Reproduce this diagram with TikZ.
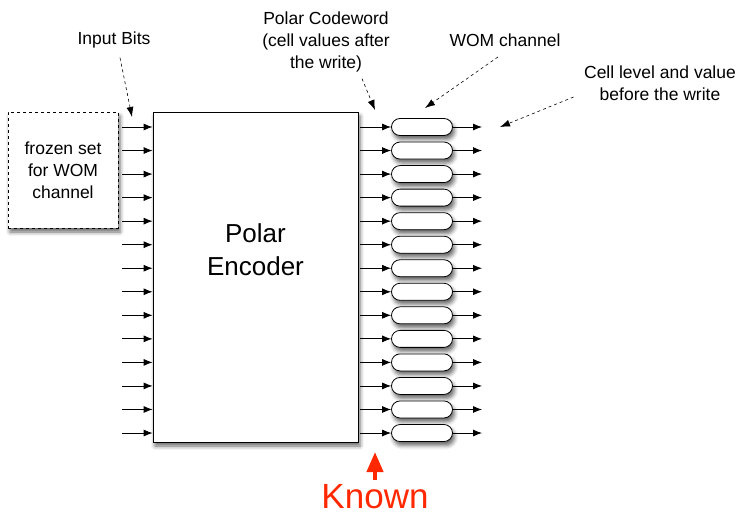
\documentclass[tikz,border=0pt]{standalone}
\usepackage{fontspec}
\setmainfont{Liberation Sans}
\usetikzlibrary{positioning,arrows.meta,shadows.blur}
\definecolor{knownred}{RGB}{255,40,0}

\begin{document}
\begin{tikzpicture}[
  x=1pt, y=-1pt,
  every node/.style={font=\fontsize{17.5}{22}\selectfont},
  row/.style={-{Latex[length=9pt,width=7pt]}, line width=0.8pt},
  note/.style={-{Latex[length=10pt,width=7pt]}, dashed, line width=0.6pt},
  shade/.style={blur shadow={shadow xshift=2pt, shadow yshift=-4pt,
    shadow blur radius=4pt, shadow opacity=60}},
  box/.style={draw, fill=white, shade, line width=0.8pt, align=center},
  wom/.style={draw, fill=white, shade, line width=0.8pt, rounded corners=8.5pt,
    minimum width=61pt, minimum height=17pt, inner sep=0pt}
]
  \useasboundingbox (0,0) rectangle (742,516);

  \node[box, dashed, minimum width=110pt, minimum height=116pt] (frozen)
    at (63,170) {frozen set\\for WOM\\channel};
  \node[box, minimum width=205pt, minimum height=330pt] (enc) at (255.5,277) {};
  \node[align=center, font=\fontsize{26}{33}\selectfont] (enctext)
    at ([yshift=27pt]enc.center) {Polar\\Encoder};

  % one row per cell
  \foreach \i in {1,...,14} {
    \node[wom] (wom\i) at (422, {127+(\i-1)*23.54}) {};
    \coordinate (in\i) at (122, {127+(\i-1)*23.54});
    \coordinate (out\i) at (482, {127+(\i-1)*23.54});
    \draw[row] (in\i) -- (in\i -| enc.west);
    \draw[row, shorten <=2pt] (enc.east |- wom\i) -- (wom\i.west);
    \draw[row] (wom\i.east) -- (out\i);
  }

  \node (bits) at (114,40) {Input Bits};
  \node[align=center] (code) at (326,42) {Polar Codeword\\(cell values after\\the write)};
  \node (chan) at (505,40) {WOM channel};
  \node[align=center] (level) at (660,83) {Cell level and value\\before the write};
  \node[text=knownred, inner sep=0pt, font=\fontsize{35}{40}\selectfont] (known)
    at (375,497) {Known};

  \coordinate (bitstip) at (132,117);
  \coordinate (codetip) at (375,110);
  \coordinate (chantip) at (425,108);
  \coordinate (leveltip) at (500,127);
  \coordinate (knowntip) at (375,452);

  \draw[note] ([xshift=6pt,yshift=-6pt]bits.south) -- (bitstip);
  \draw[note] ([xshift=36pt,yshift=-3pt]code.south) -- (codetip);
  \draw[note] ([xshift=-7pt,yshift=-7pt]chan.south) -- (chantip);
  \draw[note] ([xshift=-7pt,yshift=-14pt]level.west) -- (leveltip);
  \draw[knownred, line width=4pt, -{Triangle[length=20pt,width=16pt]}]
    ([yshift=5pt]known.north) -- (knowntip);
\end{tikzpicture}
\end{document}
